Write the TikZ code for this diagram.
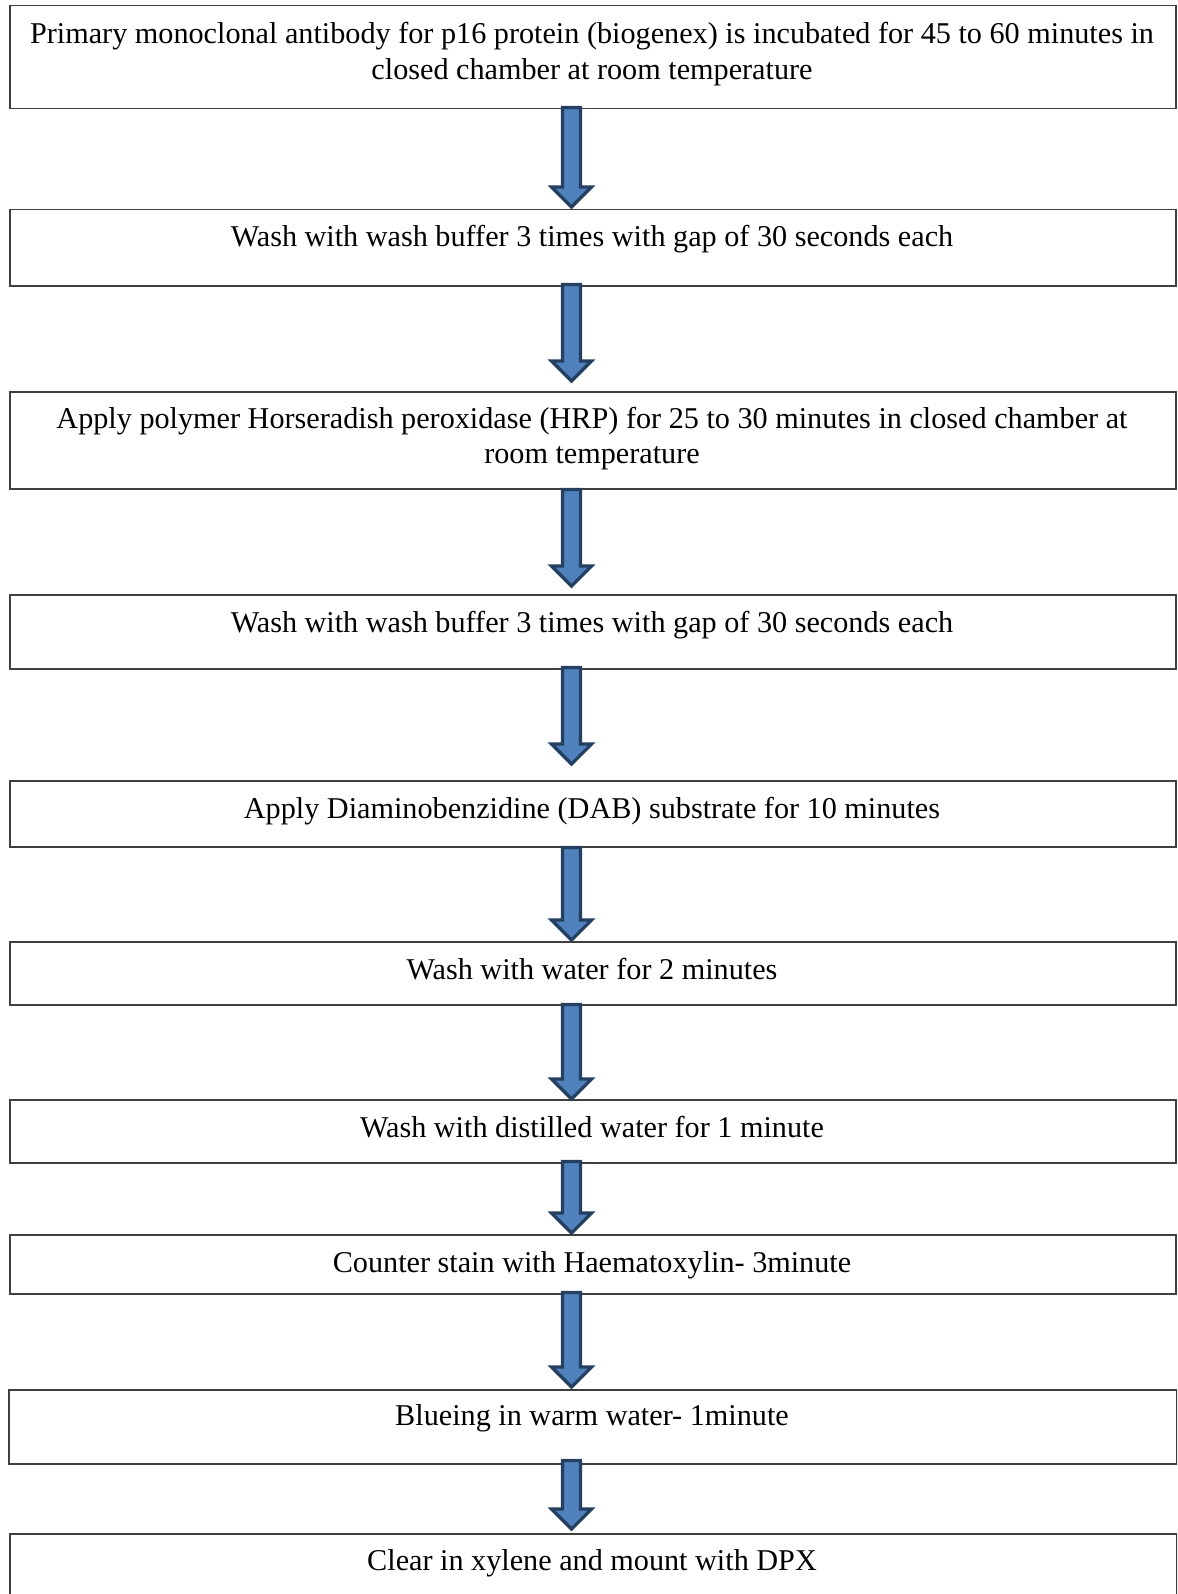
\documentclass[tikz,border=0pt]{standalone}
\usepackage{fontspec}
\setmainfont{Liberation Serif}
\definecolor{arrfill}{HTML}{4F81BD}
\definecolor{arrline}{HTML}{243F60}
\tikzset{
  stepbox/.style={draw=black!75, line width=0.75pt, fill=none, rectangle, inner sep=0pt, anchor=north west, minimum width=583pt},
  steptxt/.style={font=\fontsize{15.1pt}{17.8pt}\selectfont, align=center, inner sep=0pt, text=black},
  blockarr/.style={fill=arrfill, draw=arrline, line width=1.6pt, line join=miter, miter limit=10}
}
% #1 from node, #2 to node, #3 start offset (px up from #1.south), #4 gap before #2.north
\newcommand{\blockarrow}[4]{%
  \path (#1.south) ++(0,-#3) coordinate (ta) (#2.north) ++(0,-#4) coordinate (tb);
  \draw[blockarr] (ta -| 562.5,0) -- (ta -| 580.5,0) -- ([yshift=10pt]tb -| 580.5,0) -- ([yshift=10pt]tb -| 591.5,0)
     -- (tb -| 571.5,0) -- ([yshift=10pt]tb -| 551.5,0) -- ([yshift=10pt]tb -| 562.5,0) -- cycle;
}
\begin{document}
\begin{tikzpicture}[x=0.5pt,y=-0.5pt]
\useasboundingbox (0,0) rectangle (1177,1594);
\clip (0,0) rectangle (1177,1594);
\node[stepbox, minimum height=51.5pt] (b1) at (9,5) {};
\node[stepbox, minimum height=38pt] (b2) at (9,209) {};
\node[stepbox, minimum height=48.5pt] (b3) at (9,391) {};
\node[stepbox, minimum height=37pt] (b4) at (9,594) {};
\node[stepbox, minimum height=33pt] (b5) at (9,780) {};
\node[stepbox, minimum height=31.5pt] (b6) at (9,941) {};
\node[stepbox, minimum height=31.5pt] (b7) at (9,1099) {};
\node[stepbox, minimum height=29.5pt] (b8) at (9,1234) {};
\node[stepbox, minimum height=37pt, minimum width=584pt] (b9) at (8,1389) {};
\node[stepbox, minimum height=40pt, minimum width=583.5pt] (b10) at (9,1533) {};

\node[steptxt, anchor=center] (t1) at (592,54) {Primary monoclonal antibody for p16 protein (biogenex) is incubated for 45 to 60 minutes in\\closed chamber at room temperature};
\node[steptxt, anchor=base] (t2) at (592,247) {Wash with wash buffer 3 times with gap of 30 seconds each};
\node[steptxt, anchor=center] (t3) at (592,438.5) {Apply polymer Horseradish peroxidase (HRP) for 25 to 30 minutes in closed chamber at\\room temperature};
\node[steptxt, anchor=base] (t4) at (592,632) {Wash with wash buffer 3 times with gap of 30 seconds each};
\node[steptxt, anchor=base] (t5) at (592,818) {Apply Diaminobenzidine (DAB) substrate for 10 minutes};
\node[steptxt, anchor=base] (t6) at (592,979) {Wash with water for 2 minutes};
\node[steptxt, anchor=base] (t7) at (592,1137) {Wash with distilled water for 1 minute};
\node[steptxt, anchor=base] (t8) at (592,1272) {Counter stain with Haematoxylin- 3minute};
\node[steptxt, anchor=base] (t9) at (592,1425) {Blueing in warm water- 1minute};
\node[steptxt, anchor=base] (t10) at (592,1570) {Clear in xylene and mount with DPX};

\blockarrow{b1}{b2}{2}{2}
\blockarrow{b2}{b3}{2}{10}
\blockarrow{b3}{b4}{0}{8}
\blockarrow{b4}{b5}{2}{16}
\blockarrow{b5}{b6}{0}{1}
\blockarrow{b6}{b7}{1}{0}
\blockarrow{b7}{b8}{2}{1}
\blockarrow{b8}{b9}{2}{2}
\blockarrow{b9}{b10}{4}{4}
\end{tikzpicture}
\end{document}
